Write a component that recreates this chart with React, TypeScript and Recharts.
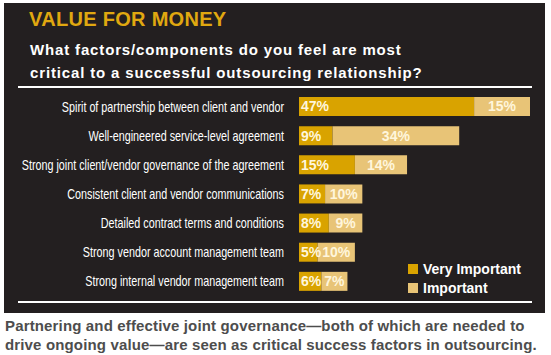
import React from "react";
import { BarChart, Bar, XAxis, YAxis, LabelList, Legend } from "recharts";

const categories = [
  "Spirit of partnership between client and vendor",
  "Well-engineered service-level agreement",
  "Strong joint client/vendor governance of the agreement",
  "Consistent client and vendor communications",
  "Detailed contract terms and conditions",
  "Strong vendor account management team",
  "Strong internal vendor management team",
];
const veryImportant = [47, 9, 15, 7, 8, 5, 6];
const important = [15, 34, 14, 10, 9, 10, 7];
const seriesNames = ["Very Important", "Important"];

const data = categories.map((name, i) => ({
  name,
  vi: veryImportant[i],
  imp: important[i],
}));

const VI_COLOR = "#d9a300";
const IMP_COLOR = "#e8c477";
const BG = "#231f20";
const SANS = "'Liberation Sans', Arial, sans-serif";

const pct = (v: any) => `${v}%`;

const CategoryTick = (props: any) => {
  const { x, y, payload } = props;
  return (
    <g transform={`translate(${x},${y}) scale(0.77,1)`}>
      <text x={0} y={0} dy={5} textAnchor="end" fill="#ffffff" fontSize={14} fontFamily={SANS}>
        {payload.value}
      </text>
    </g>
  );
};

const LegendContent = () => (
  <div style={{ fontFamily: SANS, fontWeight: 700, fontSize: 14, color: "#ffffff" }}>
    {[VI_COLOR, IMP_COLOR].map((c, i) => (
      <div key={i} style={{ display: "flex", alignItems: "center", height: 19 }}>
        <span style={{ display: "inline-block", width: 10, height: 10, background: c, marginRight: 5 }} />
        <span>{seriesNames[i]}</span>
      </div>
    ))}
  </div>
);

export default function App() {
  return (
    <div style={{ position: "absolute", left: 0, top: 0, width: 551, height: 355, background: "#ffffff", overflow: "hidden" }}>
      <div style={{ position: "absolute", left: 4, top: 3, width: 541, height: 310, background: BG }} />
      <div style={{ position: "absolute", left: 29, top: 8, fontFamily: SANS, fontWeight: 700, fontSize: 20, color: "#e0a810", letterSpacing: 0.3 }}>
        VALUE FOR MONEY
      </div>
      <div style={{ position: "absolute", left: 30, top: 38, fontFamily: SANS, fontWeight: 700, fontSize: 15, lineHeight: "23px", color: "#ffffff", letterSpacing: 0.85 }}>
        What factors/components do you feel are most
        <br />
        critical to a successful outsourcing relationship?
      </div>
      <div style={{ position: "absolute", left: 18, top: 86, width: 514, height: 2, background: "#ffffff" }} />
      <div style={{ position: "absolute", left: 18, top: 301, width: 514, height: 2, background: "#ffffff" }} />
      <div style={{ position: "absolute", left: 0, top: 0 }}>
        <BarChart
          width={551}
          height={355}
          layout="vertical"
          data={data}
          margin={{ top: 92, right: 21, bottom: 59, left: 0 }}
          barCategoryGap={10}
        >
          <XAxis type="number" domain={[0, 62]} hide />
          <YAxis
            type="category"
            dataKey="name"
            width={299}
            axisLine={false}
            tickLine={false}
            tickMargin={9}
            tick={<CategoryTick />}
          />
          <Legend
            layout="vertical"
            verticalAlign="middle"
            align="center"
            wrapperStyle={{ position: "absolute", left: 408, top: 259, width: 140 }}
            content={<LegendContent />}
          />
          <Bar dataKey="vi" stackId="s" fill={VI_COLOR} barSize={19} isAnimationActive={false} name={seriesNames[0]}>
            <LabelList dataKey="vi" position="insideLeft" offset={2} formatter={pct} fill="#fff6dc" fontSize={14} fontWeight={700} fontFamily={SANS} />
          </Bar>
          <Bar dataKey="imp" stackId="s" fill={IMP_COLOR} barSize={19} isAnimationActive={false} name={seriesNames[1]}>
            <LabelList dataKey="imp" position="center" formatter={pct} fill="#fff6dc" fontSize={14} fontWeight={700} fontFamily={SANS} />
          </Bar>
        </BarChart>
      </div>
      <div style={{ position: "absolute", left: 5, top: 316, fontFamily: SANS, fontWeight: 700, fontSize: 15, lineHeight: "19px", color: "#4d4d4d", letterSpacing: 0.15 }}>
        Partnering and effective joint governance—both of which are needed to
        <br />
        drive ongoing value—are seen as critical success factors in outsourcing.
      </div>
    </div>
  );
}
